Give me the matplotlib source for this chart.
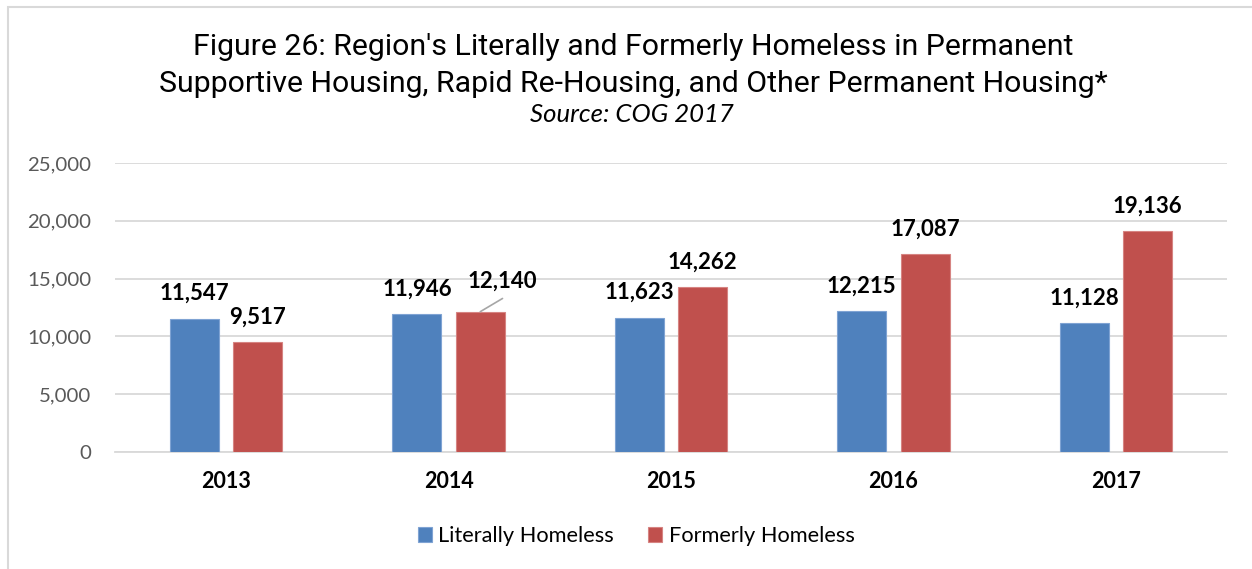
import matplotlib
matplotlib.use("Agg")
import matplotlib.pyplot as plt
from matplotlib.patches import Rectangle
import numpy as np

years = ["2013", "2014", "2015", "2016", "2017"]
literally = [11547, 11946, 11623, 12215, 11128]
formerly = [9517, 12140, 14262, 17087, 19136]
series_names = ["Literally Homeless", "Formerly Homeless"]
yticks = [0, 5000, 10000, 15000, 20000, 25000]

BLUE = "#4F81BD"
RED = "#C0504D"
GRID = "#D9D9D9"
LAB = "Lato"

W, H = 1252, 569
fig = plt.figure(figsize=(W / 100, H / 100), dpi=100)

# outer chart border (left & top visible)
fig.patches.append(Rectangle((8 / W, -0.1), 1.2, 1 - 7 / H + 0.1,
                             transform=fig.transFigure, fill=False,
                             edgecolor=GRID, linewidth=1.5))

ax = fig.add_axes([115 / W, 1 - 452 / H, (1227 - 115) / W, (452 - 163) / H])
x = np.arange(len(years))
bw = 0.22
off = 0.1425
b1 = ax.bar(x - off, literally, bw, color=BLUE, edgecolor="#7FA3D3", linewidth=0.8,
            label=series_names[0], zorder=3)
b2 = ax.bar(x + off, formerly, bw, color=RED, edgecolor="#D68482", linewidth=0.8,
            label=series_names[1], zorder=3)

ax.set_xlim(-0.5, len(years) - 0.5)
ax.set_ylim(0, 25000)
ax.set_yticks(yticks)
ax.set_yticklabels([f"{v:,}" for v in yticks], fontfamily=LAB, fontsize=14.7, color="#595959")
ax.set_xticks(x)
ax.set_xticklabels(years, fontfamily=LAB, fontsize=15.5, fontweight="bold", color="black")
ax.tick_params(axis="y", length=0, pad=17)
ax.tick_params(axis="x", length=0, pad=14)
ax.grid(axis="y", color=GRID, linewidth=1.3, zorder=0)
ax.set_axisbelow(True)
for s in ["top", "right", "left"]:
    ax.spines[s].set_visible(False)
ax.spines["bottom"].set_color(GRID)
ax.spines["bottom"].set_linewidth(1.3)

lab_kw = dict(textcoords="offset points", ha="center", va="center",
              fontfamily=LAB, fontsize=16, fontweight="bold")
for xi, v in zip(x - off, literally):
    ax.annotate(f"{v:,}", (xi, v), xytext=(0, 18), **lab_kw)
for i, (xi, v) in enumerate(zip(x + off, formerly)):
    if years[i] == "2014":
        ax.annotate(f"{v:,}", (xi, v), xytext=(16, 22), **lab_kw)
        ax.annotate("", (xi, v), xytext=(16, 9.5), textcoords="offset points",
                    arrowprops=dict(arrowstyle="-", color="#A6A6A6", lw=1.2,
                                    shrinkA=0, shrinkB=0))
    else:
        ax.annotate(f"{v:,}", (xi, v), xytext=(0, 18), **lab_kw)

fig.text(633 / W, 1 - 47 / H,
         "Figure 26: Region's Literally and Formerly Homeless in Permanent",
         ha="center", va="center", fontfamily="Roboto", fontsize=21.8)
fig.text(633 / W, 1 - 84 / H,
         "Supportive Housing, Rapid Re-Housing, and Other Permanent Housing*",
         ha="center", va="center", fontfamily="Roboto", fontsize=21.8)
fig.text(632 / W, 1 - 115 / H, "Source: COG 2017", ha="center", va="center",
         fontfamily=LAB, fontstyle="italic", fontsize=18.5)

leg = fig.legend(handles=[b1, b2], labels=series_names, loc="center",
                 bbox_to_anchor=(636 / W, 1 - 536 / H), ncol=2, frameon=False,
                 prop={"family": LAB, "size": 15.7}, handlelength=0.65, handleheight=0.65,
                 handletextpad=0.3, columnspacing=1.55)

fig.savefig("out.png", dpi=100)
